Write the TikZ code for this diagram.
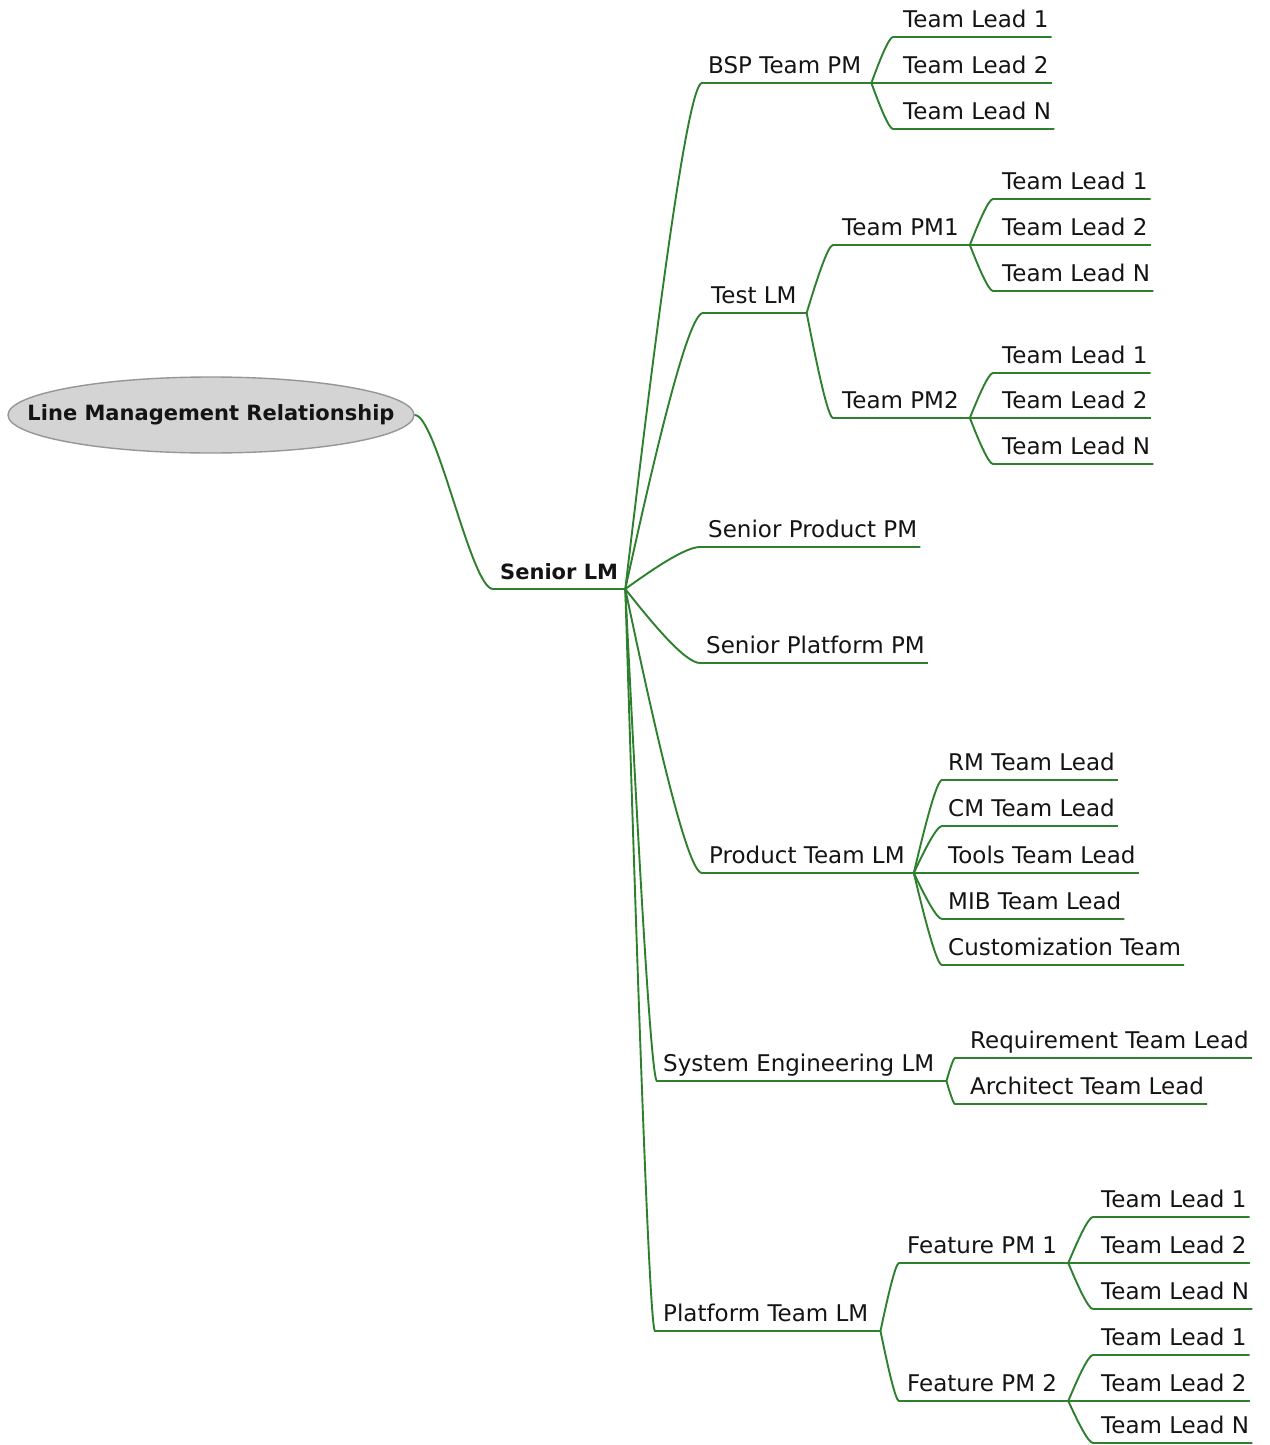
\documentclass[tikz,border=0pt]{standalone}
\usepackage{fontspec}
\setmainfont{DejaVu Sans}
\usetikzlibrary{shapes.geometric,calc}
\definecolor{lnk}{RGB}{46,128,46}
\definecolor{rootfill}{RGB}{212,212,212}
\definecolor{rootline}{RGB}{150,150,150}
\definecolor{txt}{RGB}{20,20,20}
\newcommand\tlfont{\fontsize{23}{27}\selectfont}
\newcommand\bdfont{\fontsize{21}{25}\selectfont\bfseries}
\newcommand\link[2]{%
  \draw[conn] let \p1=(#1.south east), \p2=(#2.south west) in
    (\p1) .. controls ({\x1+0.35*(\x2-\x1)},{\y1+0.45*(\y2-\y1)}) and ({\x2-0.2*(\x2-\x1)},{\y2}) .. (\p2) -- (#2.south east);}
\begin{document}
\begin{tikzpicture}[x=1pt,y=-1pt,
  conn/.style={draw=lnk,line width=1.9pt},
  topic/.style={font=\tlfont,text=txt,inner sep=0pt,anchor=south west,text height=17pt,text depth=9pt},
  boldtopic/.style={topic,font=\bdfont},
  rootnode/.style={ellipse,draw=rootline,line width=1.4pt,fill=rootfill,minimum width=406pt,minimum height=76pt,inner xsep=-80pt,inner ysep=0pt,font=\bdfont,text=txt}]
\useasboundingbox[fill=white] (0,0) rectangle (1269,1445);

% root and centre
\node[rootnode] (root) at (211,415) {Line Management Relationship};
\node[boldtopic] (senior) at (493,589) {\hspace*{7pt}Senior LM\hspace*{7pt}};

% level 1
\node[topic] (bsp) at (702,83) {\hspace*{6pt}BSP Team PM\hspace*{10pt}};
\node[topic] (test) at (703,313) {\hspace*{8pt}Test LM\hspace*{10pt}};
\node[topic] (sprod) at (700,547) {\hspace*{8pt}Senior Product PM\hspace*{3pt}};
\node[topic] (splat) at (700,663) {\hspace*{6pt}Senior Platform PM\hspace*{3pt}};
\node[topic] (prodlm) at (702,873) {\hspace*{7pt}Product Team LM\hspace*{9pt}};
\node[topic] (syseng) at (657,1081) {\hspace*{6pt}System Engineering LM\hspace*{12pt}};
\node[topic] (platlm) at (655,1331) {\hspace*{8pt}Platform Team LM\hspace*{12pt}};

% BSP team leads
\node[topic] (bspA) at (893,37) {\hspace*{10pt}Team Lead 1\hspace*{3pt}};
\node[topic] (bspB) at (893,83) {\hspace*{10pt}Team Lead 2\hspace*{3pt}};
\node[topic] (bspN) at (893,129) {\hspace*{10pt}Team Lead N\hspace*{3pt}};

% Test LM
\node[topic] (pmone) at (833,245) {\hspace*{9pt}Team PM1\hspace*{11pt}};
\node[topic] (pmtwo) at (833,418) {\hspace*{9pt}Team PM2\hspace*{11pt}};
\node[topic] (pmoneA) at (993,199) {\hspace*{9pt}Team Lead 1\hspace*{3pt}};
\node[topic] (pmoneB) at (993,245) {\hspace*{9pt}Team Lead 2\hspace*{3pt}};
\node[topic] (pmoneN) at (993,291) {\hspace*{9pt}Team Lead N\hspace*{3pt}};
\node[topic] (pmtwoA) at (993,373) {\hspace*{9pt}Team Lead 1\hspace*{3pt}};
\node[topic] (pmtwoB) at (993,418) {\hspace*{9pt}Team Lead 2\hspace*{3pt}};
\node[topic] (pmtwoN) at (993,464) {\hspace*{9pt}Team Lead N\hspace*{3pt}};

% Product Team LM
\node[topic] (rm) at (942,780) {\hspace*{6pt}RM Team Lead\hspace*{3pt}};
\node[topic] (cm) at (942,826) {\hspace*{6pt}CM Team Lead\hspace*{3pt}};
\node[topic] (tools) at (942,873) {\hspace*{6pt}Tools Team Lead\hspace*{3pt}};
\node[topic] (mib) at (942,919) {\hspace*{6pt}MIB Team Lead\hspace*{3pt}};
\node[topic] (cust) at (942,965) {\hspace*{6pt}Customization Team\hspace*{3pt}};

% System Engineering LM
\node[topic] (req) at (955,1058) {\hspace*{15pt}Requirement Team Lead\hspace*{3pt}};
\node[topic] (arch) at (955,1104) {\hspace*{15pt}Architect Team Lead\hspace*{3pt}};

% Platform Team LM
\node[topic] (fpmone) at (899,1263) {\hspace*{8pt}Feature PM 1\hspace*{11pt}};
\node[topic] (fpmtwo) at (899,1401) {\hspace*{8pt}Feature PM 2\hspace*{11pt}};
\node[topic] (fpmoneA) at (1093,1217) {\hspace*{8pt}Team Lead 1\hspace*{3pt}};
\node[topic] (fpmoneB) at (1093,1263) {\hspace*{8pt}Team Lead 2\hspace*{3pt}};
\node[topic] (fpmoneN) at (1093,1309) {\hspace*{8pt}Team Lead N\hspace*{3pt}};
\node[topic] (fpmtwoA) at (1093,1355) {\hspace*{8pt}Team Lead 1\hspace*{3pt}};
\node[topic] (fpmtwoB) at (1093,1401) {\hspace*{8pt}Team Lead 2\hspace*{3pt}};
\node[topic] (fpmtwoN) at (1093,1443) {\hspace*{8pt}Team Lead N\hspace*{3pt}};

% connectors
\draw[conn] let \p1=(root.east), \p2=(senior.south west) in
  (\p1) .. controls ({\x1+22pt},{\y1}) and ({\x2-22pt},{\y2}) .. (\p2) -- (senior.south east);

\foreach \c in {bsp,test,sprod,splat,prodlm,syseng,platlm} {\link{senior}{\c}}
\foreach \c in {bspA,bspB,bspN} {\link{bsp}{\c}}
\foreach \c in {pmone,pmtwo} {\link{test}{\c}}
\foreach \c in {pmoneA,pmoneB,pmoneN} {\link{pmone}{\c}}
\foreach \c in {pmtwoA,pmtwoB,pmtwoN} {\link{pmtwo}{\c}}
\foreach \c in {rm,cm,tools,mib,cust} {\link{prodlm}{\c}}
\foreach \c in {req,arch} {\link{syseng}{\c}}
\foreach \c in {fpmone,fpmtwo} {\link{platlm}{\c}}
\foreach \c in {fpmoneA,fpmoneB,fpmoneN} {\link{fpmone}{\c}}
\foreach \c in {fpmtwoA,fpmtwoB,fpmtwoN} {\link{fpmtwo}{\c}}
\end{tikzpicture}
\end{document}
